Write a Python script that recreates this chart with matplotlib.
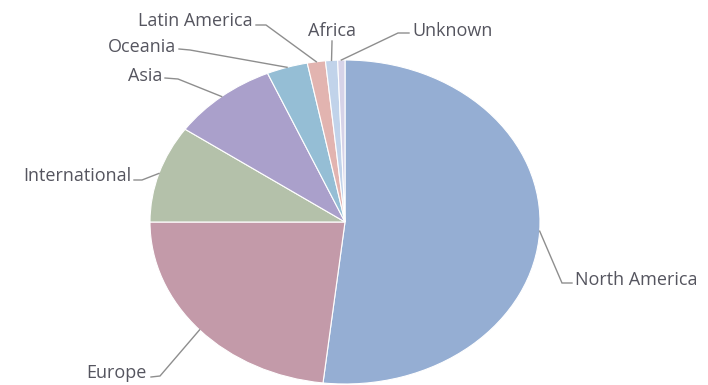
import numpy as np
import matplotlib
matplotlib.use("Agg")
import matplotlib.pyplot as plt

# share of records by region (percent)
regions = ["North America", "Europe", "International", "Asia",
           "Oceania", "Latin America", "Africa", "Unknown"]
shares = [51.8, 23.2, 9.7, 8.8, 3.4, 1.5, 1.0, 0.6]
colors = ["#95aed3", "#c39aa9", "#b4c1aa", "#aaa0cb",
          "#95bed5", "#e2b4b0", "#c1d3ea", "#d6d3e8"]

# label placement in pixel space: text position, alignment, line start, knee
label_pos = [(575, 280, "left"), (147, 373, "right"), (131, 176, "right"),
             (162, 76, "right"), (176, 47, "right"), (253, 21, "right"),
             (332, 31, "center"), (412, 31, "left")]
leader_knees = [((572, 283), (562, 283)), ((151, 377), (160, 376)),
                ((134, 180), (142, 180)), ((165, 78), (178, 79)),
                ((179, 49), (190, 50)), ((256, 25), (266, 25)),
                ((332, 41), (332, 42)), ((409, 33), (398, 33))]

W, H = 708, 385
cx, cy, rx, ry = 345, 222, 195, 162


def to_data(px, py):
    return (px - cx) / rx, (cy - py) / ry


fig = plt.figure(figsize=(W / 100, H / 100), dpi=100)
ax = fig.add_axes([0, 0, 1, 1])
wedges, _ = ax.pie(shares, colors=colors, startangle=90, counterclock=False,
                   wedgeprops=dict(edgecolor="white", linewidth=0.8))
ax.set_aspect("auto")
ax.set_xlim(-cx / rx, (W - cx) / rx)
ax.set_ylim(-(H - cy) / ry, cy / ry)
ax.axis("off")

for w, name, (tx, ty, ha), (start, knee) in zip(wedges, regions, label_pos, leader_knees):
    mid = np.deg2rad((w.theta1 + w.theta2) / 2)
    edge = (np.cos(mid), np.sin(mid))
    pts = [to_data(*start), to_data(*knee), edge]
    ax.plot([p[0] for p in pts], [p[1] for p in pts], color="#8e8e8e", lw=1.0,
            solid_joinstyle="miter")
    x, y = to_data(tx, ty)
    ax.text(x, y, name, ha=ha, va="center", fontsize=13,
            family="Open Sans", color="#55555f")

fig.savefig("out.png", dpi=100)
